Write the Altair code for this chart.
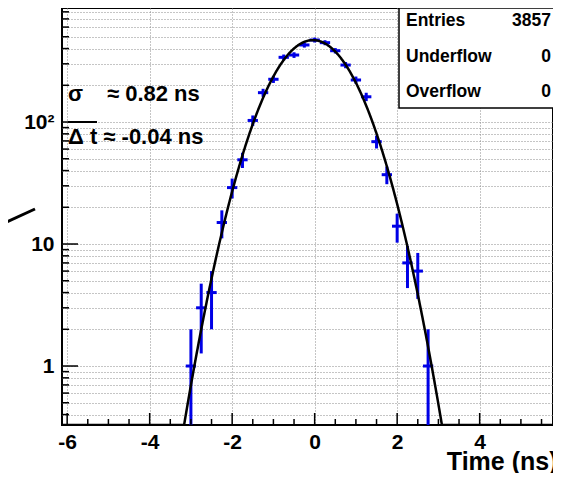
import numpy as np
import pandas as pd
import altair as alt

# ---- data ----
T_CENTERS = [-3.0, -2.75, -2.5, -2.25, -2.0, -1.75, -1.5, -1.25, -1.0, -0.75, -0.5, -0.25,
             0.0, 0.25, 0.5, 0.75, 1.0, 1.25, 1.5, 1.75, 2.0, 2.25, 2.5, 2.75]
COUNTS = [1, 3, 4, 15, 29, 49, 103, 174, 224, 339, 354, 428,
          470, 447, 384, 293, 221, 161, 69, 37, 14, 7, 6, 1]
BIN_WIDTH = 0.25

# fit parameters (shown on the chart)
FIT_SIGMA = 0.82
FIT_MEAN = -0.04
FIT_AMPL = 469

X_MAJOR = [-6, -4, -2, 0, 2, 4]
X_MINOR = [-5.5, -5, -4.5, -3.5, -3, -2.5, -1.5, -1, -0.5, 0.5, 1, 1.5, 2.5, 3, 3.5, 4.5, 5, 5.5]
Y_MAJOR = [1, 10, 100]
Y_MINOR = [0.4, 0.5, 0.6, 0.7, 0.8, 0.9, 2, 3, 4, 5, 6, 7, 8, 9,
           20, 30, 40, 50, 60, 70, 80, 90, 200, 300, 400, 500, 600, 700, 800]
Y_GRID = sorted(Y_MAJOR + Y_MINOR)

STATS_NAMES = ["Entries", "Underflow", "Overflow"]
STATS_VALUES = ["3857", "0", "0"]

W, H = 491, 417
FONT = "Liberation Sans"
BLUE = "#0000e6"

df = pd.DataFrame({"t": T_CENTERS, "n": COUNTS})
df["err"] = np.sqrt(df["n"])
df["lo"] = np.maximum(df["n"] - df["err"], 0.01)
df["hi"] = df["n"] + df["err"]
df["t0"] = df["t"] - BIN_WIDTH / 2
df["t1"] = df["t"] + BIN_WIDTH / 2

tt = np.arange(-6.125, 5.80, 0.01)
fit = pd.DataFrame({"t": tt,
                    "f": FIT_AMPL * np.exp(-((tt - FIT_MEAN) ** 2) / (2 * FIT_SIGMA ** 2))})

xscale = alt.Scale(domain=[-6.125, 5.778], nice=False, zero=False)
yscale = alt.Scale(type="log", domain=[0.3285, 860], nice=False, clamp=True)

xaxis = alt.Axis(values=X_MAJOR, labelExpr="'' + datum.value", grid=True, gridDash=[1, 2],
                 gridColor="#8a8a8a", gridWidth=1, ticks=False, domain=False,
                 labelFont=FONT, labelFontSize=21, labelFontWeight="bold", labelColor="black",
                 labelPadding=6, labelFlush=False, labelOverlap=False,
                 title="Time (ns)", titleFont=FONT, titleFontSize=25, titleFontWeight="bold",
                 titleColor="black", titleAnchor="end", titleAlign="right",
                 titleBaseline="alphabetic", titleX=495, titleY=44)
yaxis = alt.Axis(values=Y_GRID,
                 labelExpr="datum.value == 1 ? '1' : datum.value == 10 ? '10' : datum.value == 100 ? '10²' : ''",
                 grid=True, gridDash=[1, 2], gridColor="#8a8a8a", gridWidth=1, ticks=False,
                 domain=False, labelFont=FONT, labelFontSize=21, labelFontWeight="bold",
                 labelColor="black", labelPadding=8, labelOverlap=False, labelFlush=False,
                 title=None)


def X(f):
    return alt.X(f, type="quantitative", scale=xscale, axis=xaxis)


def Y(f):
    return alt.Y(f, type="quantitative", scale=yscale, axis=yaxis)


vbars = alt.Chart(df).mark_rule(color=BLUE, strokeWidth=3).encode(
    x=X("t"), y=Y("lo"), y2="hi")
hbars = alt.Chart(df).mark_rule(color=BLUE, strokeWidth=3).encode(
    x=X("t0"), x2="t1", y=Y("n"))
curve = alt.Chart(fit).mark_line(color="black", strokeWidth=2.5, clip=True).encode(
    x=X("t"), y=Y("f"))

xmaj = alt.Chart(pd.DataFrame({"v": X_MAJOR})).mark_rule(color="black", strokeWidth=1.5).encode(
    x=X("v"), y=alt.value(H), y2=alt.value(H - 12))
xmin = alt.Chart(pd.DataFrame({"v": X_MINOR})).mark_rule(color="black", strokeWidth=1.5).encode(
    x=X("v"), y=alt.value(H), y2=alt.value(H - 6))
ymaj = alt.Chart(pd.DataFrame({"v": Y_MAJOR})).mark_rule(color="black", strokeWidth=1.5).encode(
    y=Y("v"), x=alt.value(0), x2=alt.value(16))
ymin = alt.Chart(pd.DataFrame({"v": Y_MINOR})).mark_rule(color="black", strokeWidth=1.5).encode(
    y=Y("v"), x=alt.value(0), x2=alt.value(7))

one = pd.DataFrame({"k": [0]})
box = alt.Chart(one).mark_rect(fill="white", stroke="black", strokeWidth=1.5).encode(
    x=alt.value(337), x2=alt.value(497), y=alt.value(0), y2=alt.value(100))


def label(txt, x, y, size=22, align="left"):
    return alt.Chart(pd.DataFrame({"s": [txt]})).mark_text(
        font=FONT, fontSize=size, fontWeight="bold", align=align, baseline="middle",
        color="black").encode(x=alt.value(x), y=alt.value(y), text="s:N")


ROW_Y = [13, 49, 84]
stat_layers = []
for name, val, ry in zip(STATS_NAMES, STATS_VALUES, ROW_Y):
    stat_layers.append(label(name, 344, ry, size=17.5))
    stat_layers.append(label(val, 489, ry, size=17.5, align="right"))

sig1 = label("σ", 6, 86)
sig2 = label("≈ 0.82 ns", 45, 86)
dt = label("Δ t ≈ -0.04 ns", 6, 129)
overline = alt.Chart(one).mark_rule(color="black", strokeWidth=2).encode(
    x=alt.value(6), x2=alt.value(35), y=alt.value(114))
slash = alt.Chart(one).mark_rule(color="black", strokeWidth=3).encode(
    x=alt.value(-62), x2=alt.value(-27), y=alt.value(217), y2=alt.value(201))

chart = alt.layer(
    vbars, hbars, curve, xmaj, xmin, ymaj, ymin, box, *stat_layers, sig1, sig2, dt, overline, slash
).properties(
    width=W, height=H,
    autosize=alt.AutoSizeParams(type="none"),
    padding={"left": 54, "top": 0, "right": 0, "bottom": 48},
).configure_view(stroke="black", strokeWidth=2)

chart.save("out.html", embed_options={"renderer": "svg", "actions": False})
